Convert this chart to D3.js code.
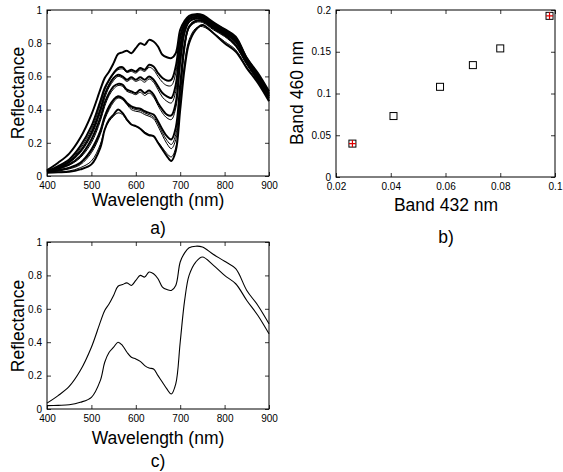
<!DOCTYPE html>
<html><head><meta charset="utf-8">
<script src="https://cdn.jsdelivr.net/npm/d3@7/dist/d3.min.js"></script>
<style>
body{margin:0;background:#fff;}
svg{display:block;font-family:"Liberation Sans",Arial,Helvetica,sans-serif;}
.tick text{font-size:10px;fill:#000;}
</style></head>
<body>
<svg id="chart" width="563" height="472"></svg>
<script>
// ---------- DATA ----------
const wavelengths = [400,425,450,475,500,520,530,540,550,560,570,580,590,600,610,620,630,640,650,660,670,680,690,700,710,720,735,750,775,800,825,850,875,900];

// panel a spectra (main curves and thin variants)
const specA  = [0.035,0.08,0.135,0.23,0.37,0.52,0.59,0.63,0.68,0.735,0.745,0.755,0.74,0.77,0.80,0.79,0.82,0.81,0.78,0.73,0.715,0.71,0.74,0.88,0.935,0.965,0.975,0.97,0.925,0.885,0.84,0.71,0.62,0.51];
const specB  = [0.03,0.06,0.10,0.18,0.30,0.45,0.53,0.58,0.62,0.65,0.655,0.63,0.64,0.63,0.65,0.64,0.67,0.66,0.62,0.59,0.575,0.58,0.66,0.84,0.92,0.955,0.97,0.965,0.92,0.88,0.83,0.71,0.61,0.50];
const specB2 = [0.03,0.055,0.09,0.165,0.28,0.43,0.52,0.575,0.615,0.64,0.645,0.625,0.63,0.62,0.64,0.63,0.655,0.64,0.60,0.565,0.545,0.545,0.62,0.82,0.915,0.95,0.965,0.96,0.915,0.875,0.825,0.705,0.605,0.495];
const specC  = [0.028,0.05,0.085,0.15,0.26,0.40,0.49,0.55,0.59,0.61,0.60,0.58,0.595,0.58,0.595,0.58,0.60,0.58,0.54,0.50,0.48,0.47,0.55,0.78,0.90,0.945,0.96,0.955,0.91,0.87,0.82,0.70,0.60,0.49];
const specC2 = [0.027,0.048,0.08,0.14,0.245,0.38,0.47,0.535,0.575,0.60,0.59,0.57,0.585,0.57,0.58,0.565,0.585,0.565,0.52,0.475,0.45,0.44,0.51,0.75,0.89,0.94,0.955,0.95,0.905,0.865,0.815,0.695,0.595,0.485];
const specD  = [0.025,0.045,0.07,0.12,0.22,0.35,0.44,0.50,0.54,0.555,0.55,0.52,0.51,0.50,0.52,0.50,0.515,0.49,0.44,0.40,0.37,0.365,0.44,0.70,0.87,0.93,0.95,0.945,0.90,0.86,0.81,0.69,0.59,0.48];
const specD2 = [0.024,0.042,0.065,0.11,0.20,0.33,0.42,0.485,0.525,0.545,0.54,0.51,0.50,0.49,0.505,0.485,0.50,0.475,0.425,0.38,0.35,0.34,0.41,0.67,0.86,0.925,0.945,0.94,0.895,0.855,0.805,0.685,0.585,0.475];
const specE  = [0.022,0.035,0.05,0.08,0.16,0.27,0.36,0.42,0.46,0.48,0.47,0.44,0.42,0.41,0.405,0.39,0.38,0.37,0.33,0.28,0.24,0.22,0.29,0.55,0.80,0.90,0.935,0.935,0.89,0.85,0.79,0.68,0.58,0.47];
const specE2 = [0.021,0.033,0.047,0.075,0.15,0.26,0.35,0.41,0.455,0.475,0.465,0.435,0.41,0.40,0.395,0.38,0.37,0.355,0.315,0.26,0.215,0.19,0.25,0.51,0.78,0.895,0.93,0.93,0.885,0.845,0.785,0.675,0.575,0.465];
const specE3 = [0.02,0.03,0.043,0.068,0.14,0.25,0.34,0.40,0.445,0.47,0.46,0.43,0.40,0.39,0.385,0.37,0.36,0.345,0.30,0.245,0.195,0.165,0.22,0.47,0.76,0.89,0.925,0.925,0.88,0.84,0.78,0.67,0.57,0.46];
const specF  = [0.02,0.022,0.025,0.04,0.07,0.17,0.28,0.34,0.37,0.40,0.38,0.34,0.31,0.30,0.285,0.26,0.245,0.24,0.20,0.16,0.12,0.09,0.15,0.40,0.65,0.80,0.88,0.91,0.86,0.80,0.75,0.65,0.56,0.45];
const specF2 = [0.02,0.024,0.03,0.05,0.09,0.19,0.28,0.33,0.36,0.38,0.37,0.335,0.31,0.30,0.285,0.265,0.25,0.24,0.205,0.17,0.135,0.115,0.17,0.42,0.68,0.82,0.89,0.90,0.86,0.81,0.76,0.655,0.565,0.455];

const mainSpectra = [specA, specB, specC, specD, specE, specF];
const thinSpectra = [specB2, specC2, specD2, specE2, specE3, specF2];

// panel b scatter
const band432 = [0.026, 0.041, 0.058, 0.070, 0.080, 0.098];
const band460 = [0.040, 0.073, 0.108, 0.134, 0.154, 0.193];
const highlighted = [0, 5];

// panel c: two selected spectra
const specHigh = specA;
const specLow  = specF;

// ticks
const wlTicks = [400,500,600,700,800,900];
const reflTicks = [0,0.2,0.4,0.6,0.8,1];
const bxTicks = [0.02,0.04,0.06,0.08,0.1];
const byTicks = [0,0.05,0.1,0.15,0.2];

// ---------- DRAW ----------
const svg = d3.select("#chart");

function frame(g, x, y, xt, yt, fmtX, fmtY){
  const [x0,x1] = x.range(), [y0,y1] = y.range();
  g.append("g").attr("transform",`translate(0,${y0})`)
    .call(d3.axisBottom(x).tickValues(xt).tickSize(-4).tickPadding(6).tickFormat(fmtX))
    .call(s=>s.select(".domain").remove());
  g.append("g").attr("transform",`translate(0,${y1})`)
    .call(d3.axisTop(x).tickValues(xt).tickSize(-4).tickFormat(""))
    .call(s=>s.select(".domain").remove());
  g.append("g").attr("transform",`translate(${x0},0)`)
    .call(d3.axisLeft(y).tickValues(yt).tickSize(-4).tickPadding(5).tickFormat(fmtY))
    .call(s=>s.select(".domain").remove());
  g.append("g").attr("transform",`translate(${x1},0)`)
    .call(d3.axisRight(y).tickValues(yt).tickSize(-4).tickFormat(""))
    .call(s=>s.select(".domain").remove());
  g.selectAll(".tick line").attr("stroke","#000").attr("stroke-width",0.8);
  g.append("rect").attr("x",x0).attr("y",y1).attr("width",x1-x0).attr("height",y0-y1)
    .attr("fill","none").attr("stroke","#000").attr("stroke-width",1);
}
const fmtNum = d => String(+d.toFixed(3));

function label(text,x,y,rot,size){
  const t = svg.append("text").attr("x",x).attr("y",y).attr("text-anchor","middle")
    .attr("dominant-baseline","central").attr("font-size",size||17.5).text(text);
  if(rot) t.attr("transform",`rotate(-90,${x},${y})`);
}

// Panel a
{
  const x = d3.scaleLinear().domain([400,900]).range([47,269]);
  const y = d3.scaleLinear().domain([0,1]).range([176,10]);
  const g = svg.append("g");
  const line = d3.line().x((d,i)=>x(wavelengths[i])).y(d=>y(d)).curve(d3.curveCatmullRom);
  g.selectAll("path.thin").data(thinSpectra).join("path").attr("class","thin")
    .attr("d",line).attr("fill","none").attr("stroke","#000").attr("stroke-width",1);
  g.selectAll("path.main").data(mainSpectra).join("path").attr("class","main")
    .attr("d",line).attr("fill","none").attr("stroke","#000").attr("stroke-width",2);
  frame(g,x,y,wlTicks,reflTicks,fmtNum,fmtNum);
  label("Wavelength (nm)",158,200);
  label("Reflectance",18,93,true);
  label("a)",158,228);
}

// Panel b
{
  const x = d3.scaleLinear().domain([0.02,0.1]).range([336,555]);
  const y = d3.scaleLinear().domain([0,0.2]).range([177,10]);
  const g = svg.append("g");
  frame(g,x,y,bxTicks,byTicks,fmtNum,fmtNum);
  const pts = band432.map((v,i)=>({x:v,y:band460[i],i}));
  g.selectAll("rect.pt").data(pts).join("rect").attr("class","pt")
    .attr("x",d=>x(d.x)-3.5).attr("y",d=>y(d.y)-3.5).attr("width",7).attr("height",7)
    .attr("fill","none").attr("stroke","#000").attr("stroke-width",1);
  const hp = pts.filter(d=>highlighted.includes(d.i));
  g.selectAll("path.plus").data(hp).join("path").attr("class","plus")
    .attr("d",d=>`M${x(d.x)-3.5},${y(d.y)}H${x(d.x)+3.5}M${x(d.x)},${y(d.y)-3.5}V${y(d.y)+3.5}`)
    .attr("stroke","#e00000").attr("stroke-width",1.2);
  label("Band 432 nm",446,205);
  label("Band 460 nm",297,93,true);
  label("b)",446,237);
}

// Panel c
{
  const x = d3.scaleLinear().domain([400,900]).range([47,269]);
  const y = d3.scaleLinear().domain([0,1]).range([409,242]);
  const g = svg.append("g");
  const line = d3.line().x((d,i)=>x(wavelengths[i])).y(d=>y(d)).curve(d3.curveCatmullRom);
  g.selectAll("path.sp").data([specHigh,specLow]).join("path").attr("class","sp")
    .attr("d",line).attr("fill","none").attr("stroke","#000").attr("stroke-width",1.1);
  frame(g,x,y,wlTicks,reflTicks,fmtNum,fmtNum);
  label("Wavelength (nm)",158,438);
  label("Reflectance",18,326,true);
  label("c)",158,461);
}
</script>
</body></html>
